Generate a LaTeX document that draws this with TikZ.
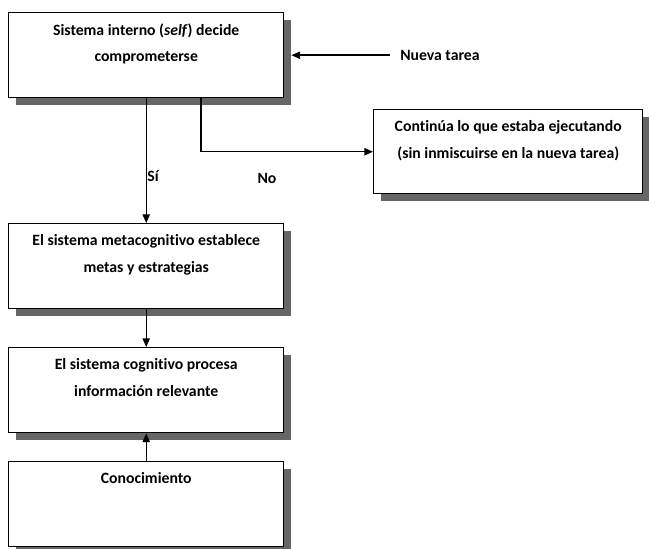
\documentclass[tikz,border=0pt]{standalone}
\usepackage{fontspec}
\setmainfont{Carlito}[Ligatures=NoCommon]
\usetikzlibrary{arrows.meta,shadows}
\begin{document}
\begin{tikzpicture}[x=0.75pt,y=-0.75pt,
  box/.style={draw=black, line width=1.1pt, fill=white, anchor=north west, inner sep=0pt,
    drop shadow={shadow xshift=5.25pt, shadow yshift=-5.25pt, fill=black!60, opacity=1}},
  wide/.style={minimum width=206.25pt, minimum height=63.75pt},
  txt/.style={font=\bfseries\fontsize{11.8}{20}\selectfont, align=center, anchor=north, inner sep=0pt, yshift=-8.5pt},
  conn/.style={line width=1.1pt},
  arr/.style={conn, -{Triangle[length=6.5pt,width=5.5pt]}},
  lbl/.style={font=\bfseries\fontsize{11.8}{14}\selectfont, inner sep=0pt}
]
\useasboundingbox (0,0) rectangle (649,549);

% boxes
\node[box,wide] (b1) at (8,12) {};
\node[box,minimum width=201.75pt,minimum height=63pt] (b4) at (373,109) {};
\node[box,wide] (b2) at (8,223) {};
\node[box,wide] (b3) at (8,347) {};
\node[box,wide] (b5) at (8,461) {};

% box texts
\node[txt] (t1) at (b1.north) {Sistema interno (\textit{self}) decide\\comprometerse};
\node[txt] (t4) at (b4.north) {Continúa lo que estaba ejecutando\\(sin inmiscuirse en la nueva tarea)};
\node[txt] (t2) at (b2.north) {El sistema metacognitivo establece\\metas y estrategias};
\node[txt] (t3) at (b3.north) {El sistema cognitivo procesa\\información relevante};
\node[txt] (t5) at (b5.north) {Conocimiento};

% free labels
\node[lbl, anchor=west] (nt) at (400,55) {Nueva tarea};
\node[lbl] (si) at (153,176) {Sí};
\node[lbl] (no) at (267,178) {No};

% connectors
\draw[arr] ([xshift=-7.5pt]nt.west |- b1.east) -- ([xshift=5.25pt]b1.east);
\draw[arr] (b1.south) -- (b2.north);
\draw[arr] ([xshift=40.9pt]b1.south) |- (b4.west);
\draw[arr] (b2.south) -- (b3.north);
\draw[arr] (b5.north) -- (b3.south);
\end{tikzpicture}
\end{document}
